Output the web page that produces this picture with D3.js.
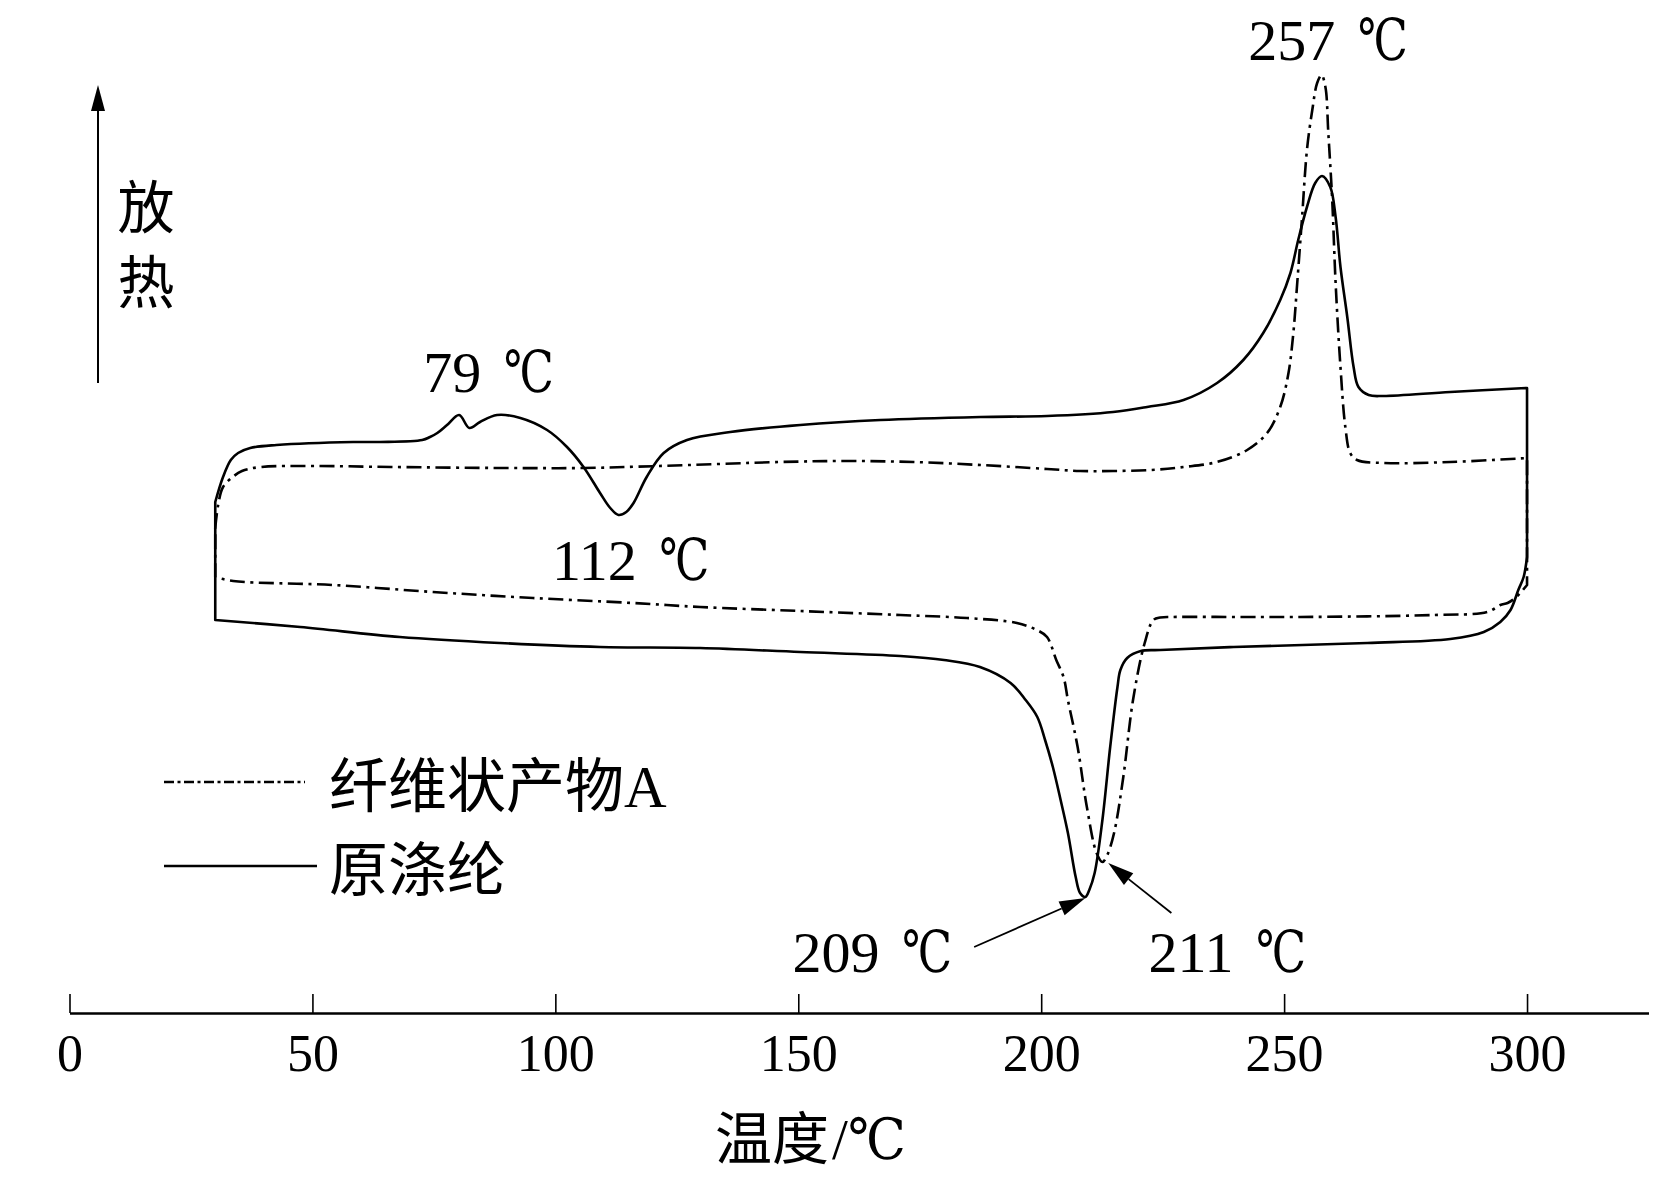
<!DOCTYPE html>
<html>
<head>
<meta charset="utf-8">
<script src="https://cdn.jsdelivr.net/npm/d3@7"></script>
<style>
  html, body { margin: 0; padding: 0; background: #fff; }
  svg { display: block; }
</style>
</head>
<body>
<svg id="chart" width="1654" height="1183"></svg>
<script>
// ---------------- DATA ----------------
// x: temperature (°C); y: heat flow (arbitrary units, exotherm up)
const xTicks = [0, 50, 100, 150, 200, 250, 300];
const seriesNames = ["纤维状产物A", "原涤纶"];

// 原涤纶 (original polyester) – heating scan, 30 → 300 °C
const solidHeat = [
  [30.0,51.1],[31.6,53.6],[33.2,55.3],[34.7,56.0],[37.2,56.5],[42.6,56.8],[58.4,57.1],
  [63.9,57.1],[72.6,57.3],[74.2,57.6],[75.7,58.0],[77.7,58.8],[80.2,59.8],[82.3,58.5],
  [84.5,59.1],[88.0,59.8],[92.8,59.5],[98.3,58.3],[102.4,56.6],[105.8,54.6],[109.2,52.0],
  [111.3,50.5],[113.0,49.8],[114.6,50.1],[116.1,51.0],[118.8,53.6],[122.3,56.0],[127.1,57.3],
  [136.0,58.1],[150.4,58.8],[166.9,59.3],[187.5,59.6],[201.2,59.7],[214.8,60.1],[221.8,60.6],
  [229.3,61.3],[236.2,63.0],[241.6,65.3],[245.7,68.0],[249.2,71.3],[251.3,74.0],[252.9,77.3],
  [254.7,80.6],[256.4,83.0],[257.8,83.7],[259.5,82.6],[260.6,79.6],[261.6,74.6],[263.0,69.6],
  [264.3,64.6],[265.3,62.6],[267.4,61.8],[270.4,61.7],[284.2,62.1],[300.0,62.5]
];
// 原涤纶 – cooling scan, 300 → 30 °C
const solidCool = [
  [300.0,45.6],[299.3,43.6],[298.2,42.3],[296.6,40.3],[294.5,39.1],[291.1,38.1],[284.2,37.4],
  [267.1,37.0],[239.6,36.6],[224.5,36.3],[220.5,36.2],[217.7,35.5],[216.3,34.3],[215.7,32.6],
  [214.2,26.6],[212.6,19.3],[211.0,14.0],[209.9,12.3],[209.1,11.6],[208.0,12.0],[207.1,13.6],
  [205.5,18.0],[204.0,21.3],[202.4,24.6],[200.8,27.3],[199.2,29.6],[196.8,31.3],[193.7,33.0],
  [187.4,34.6],[180.0,35.3],[171.0,35.7],[150.4,36.1],[129.8,36.5],[109.2,36.6],[88.6,37.0],
  [68.0,37.6],[47.5,38.6],[30.0,39.3]
];
// 纤维状产物A (fibrous product A) – heating scan
const dashHeat = [
  [30.0,48.5],[30.6,50.8],[31.6,52.6],[33.6,53.6],[35.5,54.2],[39.4,54.6],[50.5,54.7],
  [66.2,54.6],[89.9,54.5],[105.7,54.5],[121.4,54.7],[146.3,55.1],[160.0,55.2],[173.7,55.1],
  [187.5,54.8],[201.2,54.4],[208.0,54.2],[214.8,54.2],[222.5,54.3],[229.3,54.6],[236.2,55.1],
  [242.4,56.3],[246.5,58.0],[249.2,60.6],[250.9,64.0],[251.9,68.0],[252.7,73.0],[253.7,79.6],
  [254.7,86.3],[255.8,90.3],[256.8,93.0],[257.7,93.8],[258.5,92.6],[259.1,88.0],[259.9,81.3],
  [260.6,73.0],[261.6,64.6],[262.6,58.6],[263.6,56.0],[265.0,55.3],[270.4,55.0],[284.2,55.1],
  [300.0,55.5]
];
// 纤维状产物A – cooling scan
const dashCool = [
  [300.0,42.8],[297.8,41.6],[296.0,41.0],[294.5,40.8],[291.8,40.1],[280.8,39.8],[253.3,39.6],
  [242.5,39.6],[226.8,39.6],[224.5,39.55],[223.1,39.3],[221.3,37.0],[218.9,31.3],[216.9,23.6],
  [215.0,18.0],[213.6,15.8],[212.6,15.1],[211.4,16.0],[209.4,20.6],[207.5,26.6],[205.5,31.3],
  [204.6,33.6],[203.1,35.3],[201.2,37.6],[199.1,38.3],[195.0,39.0],[184.7,39.5],[171.0,39.8],
  [150.4,40.2],[129.8,40.6],[116.0,41.0],[95.4,41.5],[74.8,42.1],[54.3,42.8],[33.7,43.2],
  [30.0,43.6]
];

// peak annotations: number, unit, label anchor (T, value), optional arrows (from -> to)
const annoNum  = ["257", "79", "112", "209", "211"];
const annoUnit = "℃";
const annoPos  = [[242.6,95.3],[72.8,62.1],[99.3,43.3],[148.8,4.1],[222.1,4.1]];
const arrows   = [ [[186.2,6.6],[209.1,11.5]], [[226.8,10.0],[213.8,15.0]] ];

// ---------------- DRAW ----------------
const svg = d3.select("#chart");
svg.append("rect").attr("width",1654).attr("height",1183).attr("fill","#fff");

const x = d3.scaleLinear().domain([0, 325]).range([69.5, 1648.5]);
const y = d3.scaleLinear().domain([0, 95]).range([1013, 63]);

const serif = "'Liberation Serif','Times New Roman','DejaVu Serif',serif";
const cjk = "'Noto Sans CJK SC','Noto Sans CJK TC',sans-serif";

// x axis
const axis = svg.append("g").attr("transform", `translate(0,${y(0)})`)
  .call(d3.axisBottom(x).tickValues(xTicks).tickSize(-19).tickSizeOuter(0).tickFormat(d3.format("d")));
axis.select(".domain").attr("stroke","#000").attr("stroke-width",2.6);
axis.selectAll(".tick line").attr("stroke","#000").attr("stroke-width",1.6);
axis.selectAll(".tick text").attr("y",58).attr("dy",0)
  .attr("font-family",serif).attr("font-size",52).attr("fill","#000");

// x axis title
const xt = svg.append("text").attr("x",715).attr("y",1159).attr("font-size",57).attr("fill","#000");
xt.append("tspan").attr("font-family",cjk).text("温度");
xt.append("tspan").attr("font-family",serif).attr("dx",3).text("/");
xt.append("tspan").attr("font-family",serif).attr("textLength",58).attr("lengthAdjust","spacingAndGlyphs").text("℃");

// y arrow
const yArrowX = 98;
svg.append("line").attr("x1",yArrowX).attr("x2",yArrowX).attr("y1",383).attr("y2",108)
  .attr("stroke","#000").attr("stroke-width",2);
svg.append("path").attr("d",`M${yArrowX},85 L${yArrowX-7},111 L${yArrowX+7},111 Z`).attr("fill","#000");
svg.append("text").attr("x",146).attr("y",228).attr("text-anchor","middle")
  .attr("font-family",cjk).attr("font-size",57).attr("fill","#000").text("放");
svg.append("text").attr("x",146).attr("y",303).attr("text-anchor","middle")
  .attr("font-family",cjk).attr("font-size",57).attr("fill","#000").text("热");

// curves: each loop = heating (smooth) + vertical at 300 + cooling (smooth) + vertical at 30
const smooth = d3.line().x(d => x(d[0])).y(d => y(d[1])).curve(d3.curveCatmullRom.alpha(0.5));
function loopPath(heat, cool) {
  return smooth(heat) + smooth(cool).replace(/^M/, "L") + "Z";
}
svg.append("path").attr("d", loopPath(dashHeat, dashCool))
  .attr("fill","none").attr("stroke","#000").attr("stroke-width",2.6)
  .attr("stroke-dasharray","15,5.5,3,5.5").attr("stroke-linejoin","round");
svg.append("path").attr("d", loopPath(solidHeat, solidCool))
  .attr("fill","none").attr("stroke","#000").attr("stroke-width",2.6).attr("stroke-linejoin","round");

// annotations
annoNum.forEach((t, i) => {
  const tx = svg.append("text").attr("x", x(annoPos[i][0])).attr("y", y(annoPos[i][1]))
    .attr("font-family", serif).attr("font-size", 58).attr("fill","#000");
  tx.append("tspan").text(t + " ");
  tx.append("tspan").attr("dx", 8).attr("textLength", 50).attr("lengthAdjust","spacingAndGlyphs").text(annoUnit);
});
arrows.forEach(a => {
  const x1 = x(a[0][0]), y1 = y(a[0][1]), x2 = x(a[1][0]), y2 = y(a[1][1]);
  const ang = Math.atan2(y2 - y1, x2 - x1), L = 26, W = 7.5;
  const bx = x2 - L * Math.cos(ang), by = y2 - L * Math.sin(ang);
  svg.append("line").attr("x1",x1).attr("y1",y1).attr("x2",bx).attr("y2",by)
    .attr("stroke","#000").attr("stroke-width",1.8);
  svg.append("path").attr("d",
    `M${x2},${y2} L${bx - W*Math.sin(ang)},${by + W*Math.cos(ang)} L${bx + W*Math.sin(ang)},${by - W*Math.cos(ang)} Z`)
    .attr("fill","#000");
});

// legend
const legY = [782, 866];
const legDash = ["10,3.5,3,3.5", null];
const legX2 = [305, 317];
seriesNames.forEach((n, i) => {
  svg.append("line").attr("x1",164).attr("x2",legX2[i]).attr("y1",legY[i]).attr("y2",legY[i])
    .attr("stroke","#000").attr("stroke-width",2.6).attr("stroke-dasharray", legDash[i]);
  const t = svg.append("text").attr("x",329).attr("y",legY[i] + 25)
    .attr("font-size",59).attr("fill","#000");
  if (n.endsWith("A")) {
    t.append("tspan").attr("font-family",cjk).text(n.slice(0,-1));
    t.append("tspan").attr("font-family",serif).text("A");
  } else {
    t.append("tspan").attr("font-family",cjk).text(n);
  }
});
</script>
</body>
</html>
